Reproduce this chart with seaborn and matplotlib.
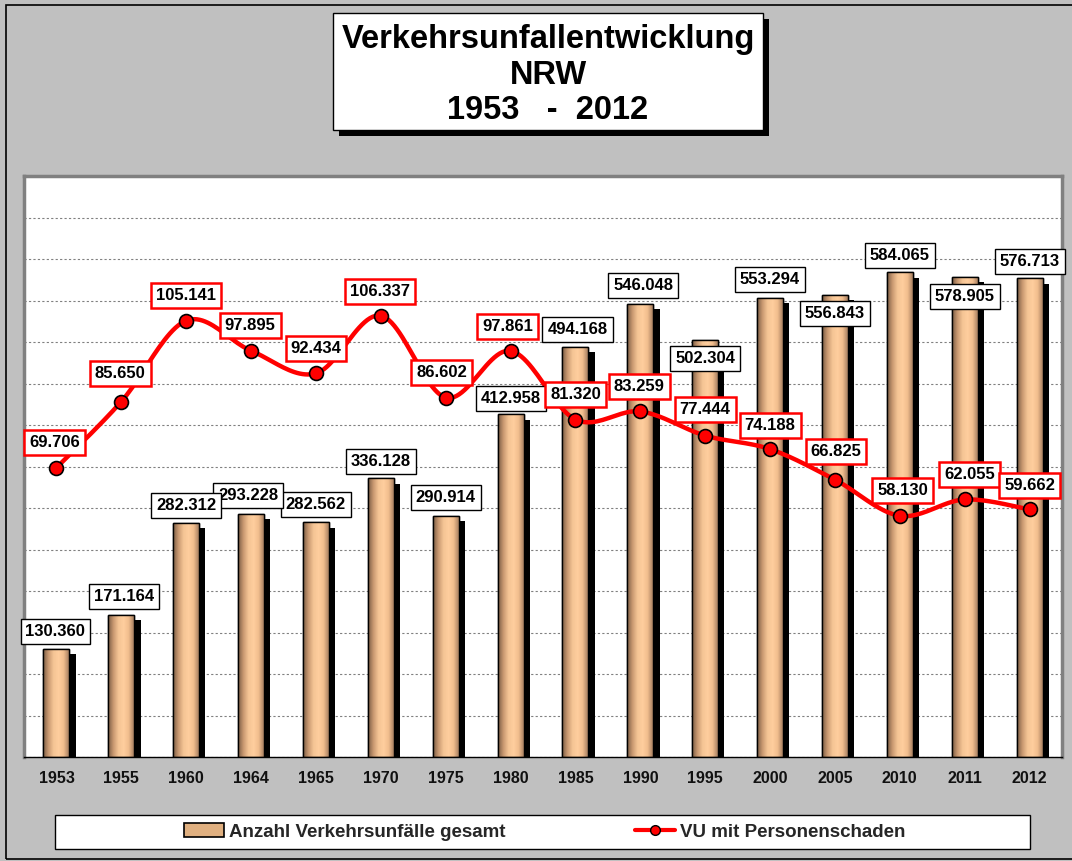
import numpy as np
import pandas as pd
import matplotlib
matplotlib.use('Agg')
import matplotlib.pyplot as plt
import matplotlib.patheffects as pe
from matplotlib.colors import LinearSegmentedColormap
from matplotlib.patches import Rectangle, Patch
from matplotlib.lines import Line2D
import seaborn as sns

# data
years = ['1953', '1955', '1960', '1964', '1965', '1970', '1975', '1980',
         '1985', '1990', '1995', '2000', '2005', '2010', '2011', '2012']
unfaelle_gesamt = [130360, 171164, 282312, 293228, 282562, 336128, 290914, 412958,
                   494168, 546048, 502304, 553294, 556843, 584065, 578905, 576713]
vu_personenschaden = [69706, 85650, 105141, 97895, 92434, 106337, 86602, 97861,
                      81320, 83259, 77444, 74188, 66825, 58130, 62055, 59662]

# label placement (pixel offsets from the data point)
bar_lbl_dx = [-1, 3, 0, -3, 0, 0, 0, 0, 2, 3, 0, 0, 0, 0, 0, 0]
bar_lbl_dy = [17, 18, 17, 18, 18, 17, 18, 16, 17, 18, -18, 18, -19, 17, -20, 17]
line_lbl_dx = [-2, -1, 0, -1, 0, -1, -4, -3, 0, -1, 0, 0, 1, 3, 5, 0]
line_lbl_dy = [25, 28, 25, 25, 25, 24, 25, 24, 25, 25, 26, 24, 28, 25, 25, 24]

df = pd.DataFrame({'jahr': years, 'gesamt': unfaelle_gesamt, 'personen': vu_personenschaden})


def fmt(v):
    return f'{v:,}'.replace(',', '.')


def catmull_rom(x, y, n=24):
    pts = np.column_stack([x, y]).astype(float)
    p = np.vstack([pts[0], pts, pts[-1]])
    t = np.linspace(0, 1, n, endpoint=False)[:, None]
    out = []
    for i in range(1, len(p) - 2):
        p0, p1, p2, p3 = p[i - 1], p[i], p[i + 1], p[i + 2]
        seg = 0.5 * (2 * p1 + (-p0 + p2) * t + (2 * p0 - 5 * p1 + 4 * p2 - p3) * t ** 2
                     + (-p0 + 3 * p1 - 3 * p2 + p3) * t ** 3)
        out.append(seg)
    out.append(pts[-1:])
    s = np.vstack(out)
    return s[:, 0], s[:, 1]


sns.set_style('white')
plt.rcParams['font.family'] = ['Liberation Sans', 'DejaVu Sans']

W, H = 1072, 861
fig = plt.figure(figsize=(W / 100, H / 100), dpi=100, facecolor='#C0C0C0')

# outer frame
fig.add_artist(Rectangle((6 / W, 1 - 859 / H), 1.1, (859 - 5) / H, transform=fig.transFigure,
                         fill=False, ec='black', lw=1.2))

ax = fig.add_axes([24 / W, 1 - 757 / H, (1062 - 24) / W, (757 - 176) / H])
ax.set_facecolor('white')

sns.barplot(data=df, x='jahr', y='gesamt', ax=ax, width=0.4, color='#F0BC8C',
            edgecolor='black', linewidth=1.0, saturation=1)

cmap = LinearSegmentedColormap.from_list('bar', ['#7A5C44', '#C89870', '#F4C494', '#FFCE9E',
                                                 '#F2BE8E', '#A88062'])
grad = np.linspace(0, 1, 64)[None, :]
for p in ax.patches:
    x0, w, h = p.get_x(), p.get_width(), p.get_height()
    p.set_path_effects([pe.SimplePatchShadow(offset=(4.5, -4), shadow_rgbFace='black', alpha=1.0),
                        pe.Normal()])
    im = ax.imshow(grad, extent=[x0, x0 + w, 0, h], aspect='auto', cmap=cmap,
                   zorder=p.get_zorder() + 0.1, interpolation='bilinear')
    im.set_clip_path(p)
    ax.add_patch(Rectangle((x0, 0), w, h, fill=False, ec='black', lw=1.0,
                           zorder=p.get_zorder() + 0.2))

ax.set_xlim(-0.5, len(years) - 0.5)
ax.set_ylim(0, 700000)
ax.set_yticks(np.arange(0, 700001, 50000))
ax.set_yticklabels([])
ax.tick_params(axis='y', length=0)
ax.grid(axis='y', color='#808080', lw=0.8, ls=(0, (2, 2)))
ax.set_axisbelow(True)
ax.set_xlabel('')
ax.set_ylabel('')
ax.set_xticks(np.arange(-0.5, len(years), 1), minor=True)
ax.tick_params(axis='x', which='major', length=0, pad=10, labelsize=11.5)
ax.tick_params(axis='x', which='minor', length=6, width=1, color='black', direction='out')
for lbl in ax.get_xticklabels():
    lbl.set_fontweight('bold')
    lbl.set_color('#111111')
for s in ['left', 'top', 'right']:
    ax.spines[s].set_color('#808080')
    ax.spines[s].set_linewidth(2.5)
ax.spines['bottom'].set_color('black')
ax.spines['bottom'].set_linewidth(1.0)

# secondary axis for the line
ax2 = ax.twinx()
ax2.set_ylim(0, 140000)
ax2.set_yticks([])
for s in ax2.spines.values():
    s.set_visible(False)
xpos = np.arange(len(years))
sx, sy = catmull_rom(xpos, vu_personenschaden)
ax2.plot(sx, sy, color='red', lw=3.2, zorder=3, solid_capstyle='round')
ax2.plot(xpos, vu_personenschaden, ls='none', marker='o', ms=10, mfc='red',
         mec='black', mew=1.2, zorder=4)

# bar labels (earlier labels on top)
for i, v in enumerate(unfaelle_gesamt):
    ax2.annotate(fmt(v), xy=(i, v), xycoords=ax.transData,
                 xytext=(bar_lbl_dx[i], bar_lbl_dy[i]), textcoords='offset pixels',
                 ha='center', va='center', fontsize=12, fontweight='bold', color='black',
                 bbox=dict(boxstyle='square,pad=0.3', fc='white', ec='black', lw=1.0),
                 zorder=6 - i * 0.01)
# line labels
for i, v in enumerate(vu_personenschaden):
    ax2.annotate(fmt(v), xy=(i, v), xycoords='data',
                 xytext=(line_lbl_dx[i], line_lbl_dy[i]), textcoords='offset pixels',
                 ha='center', va='center', fontsize=12, fontweight='bold', color='black',
                 bbox=dict(boxstyle='square,pad=0.3', fc='white', ec='red', lw=1.8),
                 zorder=7)

# title box
fig.add_artist(Rectangle((333 / W, 1 - 130 / H), 430 / W, 117 / H, transform=fig.transFigure,
                         fc='white', ec='black', lw=1.0,
                         path_effects=[pe.SimplePatchShadow(offset=(4, -4), shadow_rgbFace='black',
                                                            alpha=1.0), pe.Normal()]))
fig.text(548 / W, 1 - 75 / H, 'Verkehrsunfallentwicklung\nNRW\n1953   -  2012',
         ha='center', va='center', fontsize=23.5, fontweight='bold', linespacing=1.2,
         color='black')

# legend box
fig.add_artist(Rectangle((55 / W, 1 - 849 / H), 975 / W, 34 / H, transform=fig.transFigure,
                         fc='white', ec='black', lw=1.0))
handles = [Patch(fc='#E0B080', ec='black', lw=1.2),
           Line2D([], [], color='red', lw=3, marker='o', ms=7, mfc='red', mec='black')]
fig.legend(handles, ['Anzahl Verkehrsunfälle gesamt', 'VU mit Personenschaden'],
           loc='center', bbox_to_anchor=(545 / W, 1 - 832 / H), ncol=2, frameon=False,
           prop=dict(weight='bold', size=13.5), columnspacing=6.9, handlelength=2.1,
           handletextpad=0.3)

fig.savefig('out.png', dpi=100, facecolor=fig.get_facecolor())
